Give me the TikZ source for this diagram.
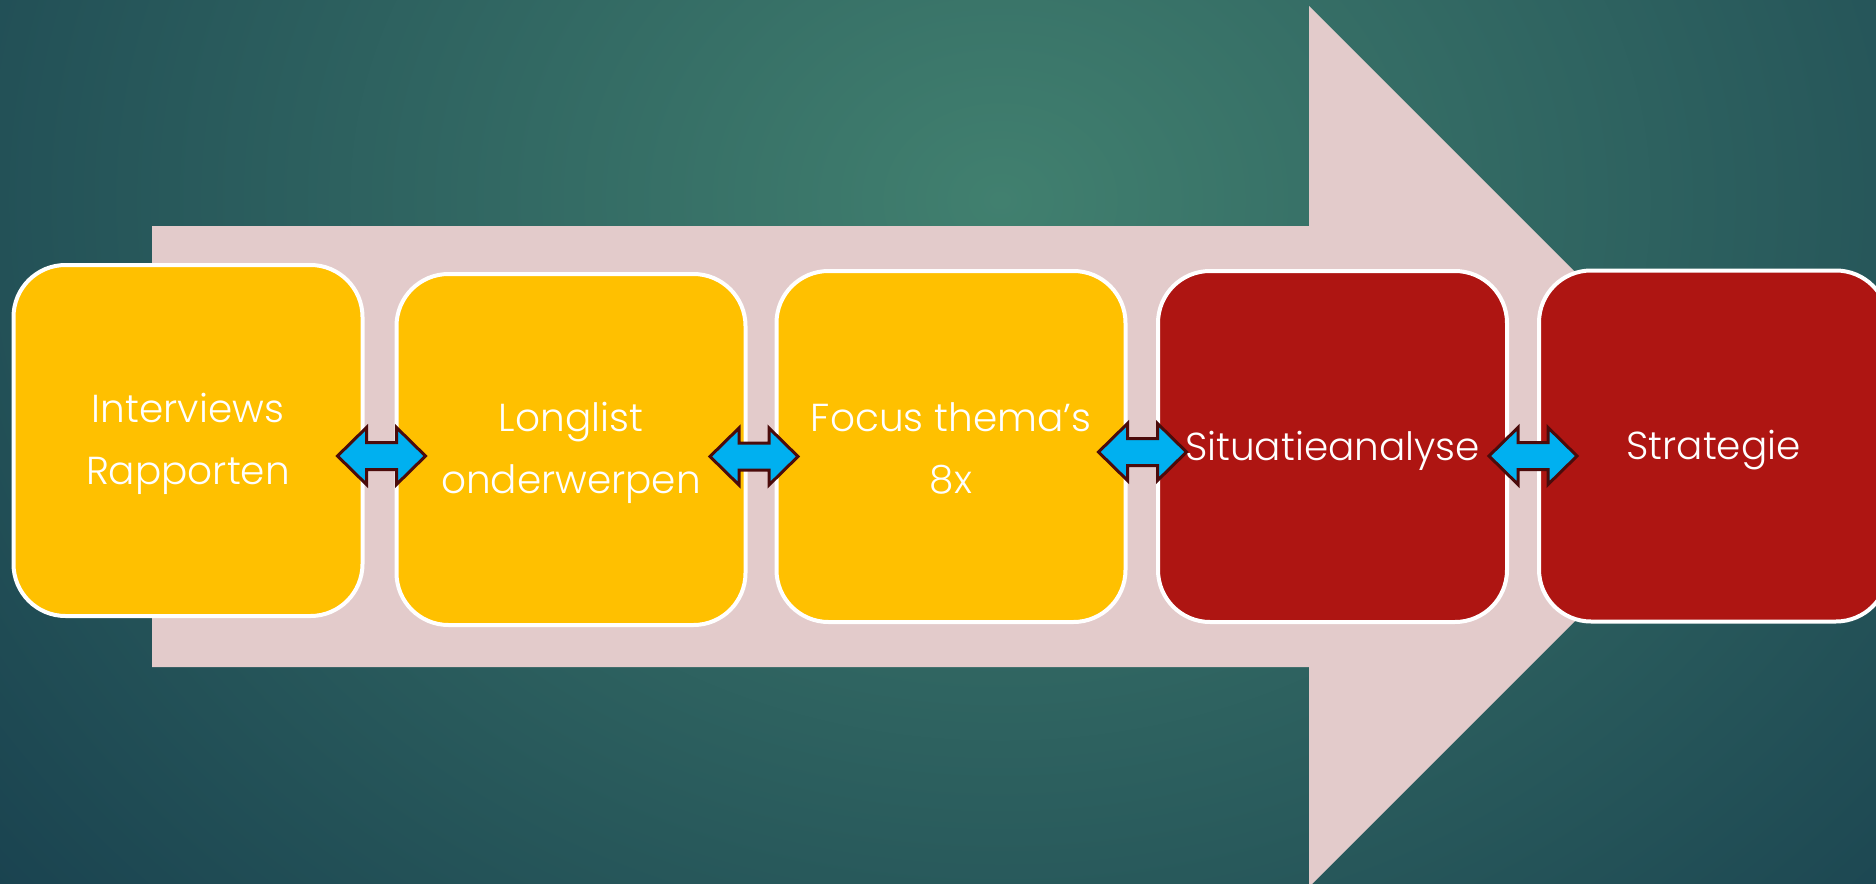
\documentclass[tikz,border=0pt]{standalone}
\usepackage{fontspec}
\setmainfont{Poppins}[UprightFont=* Light]
\definecolor{bgdark}{HTML}{1A4350}
\definecolor{bglight}{HTML}{41806F}
\definecolor{pinkc}{HTML}{E3CBCB}
\definecolor{yelc}{HTML}{FFC000}
\definecolor{redc}{HTML}{AE1512}
\definecolor{bluec}{HTML}{00B0F0}
\definecolor{brownc}{HTML}{4B0B0B}
\tikzset{
  box/.style={draw=white, line width=2pt, rounded corners=26pt,
    minimum width=174.5pt, minimum height=175.5pt, inner sep=0pt},
  lbl/.style={text=white, align=center, inner sep=0pt,
    font=\fontsize{19.5pt}{31pt}\selectfont},
  dblstyle/.style={fill=bluec, draw=brownc, line width=1.5pt, line join=miter},
  dbl/.pic={\draw[dblstyle] (-44,0) -- (-15,-28.5) -- (-15,-13.5) -- (15,-13.5)
     -- (15,-28.5) -- (44,0) -- (15,28.5) -- (15,13.5) -- (-15,13.5)
     -- (-15,28.5) -- cycle;}
}
\begin{document}
\begin{tikzpicture}[x=0.5pt,y=-0.5pt]
\useasboundingbox (0,0) rectangle (1876,884);
\begin{scope}
  \clip (0,0) rectangle (1876,884);
  \fill[bgdark] (0,0) rectangle (1876,884);
  \shade[inner color=bglight, outer color=bgdark] (1000,200) ellipse (1300 and 1080);
  \fill[pinkc] (152,226) -- (1309,226) -- (1309,6) -- (1749.5,446.5)
     -- (1309,887) -- (1309,667) -- (152,667) -- cycle;
\end{scope}
\node[box, fill=yelc] (b1) at (188,440.5) {};
\node[box, fill=yelc] (b2) at (571,449.5) {};
\node[box, fill=yelc] (b3) at (951,446.5) {};
\node[box, fill=redc] (b4) at (1332.5,446.5) {};
\node[box, fill=redc] (b5) at (1713.5,446) {};
\node[lbl] (t1) at ([yshift=-1.8pt]b1.center) {Interviews\\Rapporten};
\node[lbl] (t2) at ([yshift=-1.8pt]b2.center) {Longlist\\onderwerpen};
\node[lbl] (t3) at ([yshift=-1.2pt]b3.center) {Focus thema’s\\8x};
\node[lbl] (t4) at ([yshift=-2pt]b4.center) {Situatieanalyse};
\node[lbl] (t5) at ([yshift=-2pt]b5.center) {Strategie};
\pic (a1) at (381.5,456) {dbl};
\pic (a2) at (754,456.5) {dbl};
\pic (a3) at (1142.5,452) {dbl};
\pic (a4) at (1533,456) {dbl};
\end{tikzpicture}
\end{document}
